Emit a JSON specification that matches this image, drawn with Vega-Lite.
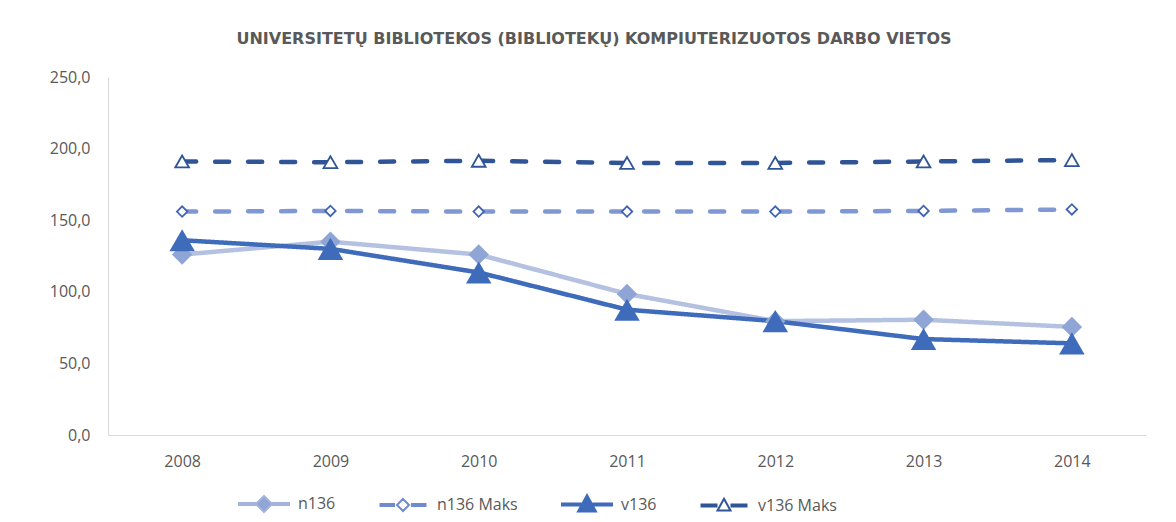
{
  "$schema": "https://vega.github.io/schema/vega-lite/v6.json",
  "autosize": "none",
  "width": 1038,
  "height": 358,
  "padding": {"left": 108, "top": 77, "right": 30, "bottom": 87},
  "background": "white",
  "title": {
    "text": "UNIVERSITETŲ BIBLIOTEKOS (BIBLIOTEKŲ) KOMPIUTERIZUOTOS DARBO VIETOS",
    "font": "DejaVu Sans",
    "fontSize": 16,
    "fontWeight": "bold",
    "color": "#595959",
    "anchor": "middle",
    "dx": -33,
    "offset": 22
  },
  "data": {
    "values": [
      {"year": "2008", "series": "n136", "value": 126},
      {"year": "2009", "series": "n136", "value": 135},
      {"year": "2010", "series": "n136", "value": 126},
      {"year": "2011", "series": "n136", "value": 98.5},
      {"year": "2012", "series": "n136", "value": 79.5},
      {"year": "2013", "series": "n136", "value": 80.5},
      {"year": "2014", "series": "n136", "value": 75.5},
      {"year": "2008", "series": "n136 Maks", "value": 156},
      {"year": "2009", "series": "n136 Maks", "value": 156.5},
      {"year": "2010", "series": "n136 Maks", "value": 156},
      {"year": "2011", "series": "n136 Maks", "value": 156},
      {"year": "2012", "series": "n136 Maks", "value": 156},
      {"year": "2013", "series": "n136 Maks", "value": 156.5},
      {"year": "2014", "series": "n136 Maks", "value": 157.5},
      {"year": "2008", "series": "v136", "value": 136},
      {"year": "2009", "series": "v136", "value": 130},
      {"year": "2010", "series": "v136", "value": 113.5},
      {"year": "2011", "series": "v136", "value": 87.5},
      {"year": "2012", "series": "v136", "value": 79.5},
      {"year": "2013", "series": "v136", "value": 67},
      {"year": "2014", "series": "v136", "value": 64},
      {"year": "2008", "series": "v136 Maks", "value": 191},
      {"year": "2009", "series": "v136 Maks", "value": 190.5},
      {"year": "2010", "series": "v136 Maks", "value": 191.5},
      {"year": "2011", "series": "v136 Maks", "value": 190},
      {"year": "2012", "series": "v136 Maks", "value": 190},
      {"year": "2013", "series": "v136 Maks", "value": 191},
      {"year": "2014", "series": "v136 Maks", "value": 192}
    ]
  },
  "encoding": {
    "x": {
      "field": "year",
      "type": "ordinal",
      "scale": {"type": "point", "padding": 0.5},
      "axis": {
        "title": null,
        "labelAngle": 0,
        "ticks": false,
        "domainColor": "#D9D9D9",
        "domainWidth": 1,
        "labelFont": "Open Sans",
        "labelFontSize": 16,
        "labelColor": "#595959",
        "labelPadding": 18,
        "grid": false
      }
    },
    "y": {
      "field": "value",
      "type": "quantitative",
      "scale": {"domain": [0, 250]},
      "axis": {
        "title": null,
        "values": [0, 50, 100, 150, 200, 250],
        "labelExpr": "replace(format(datum.value, '.1f'), '.', ',')",
        "ticks": false,
        "grid": false,
        "domainColor": "#D9D9D9",
        "labelFont": "Open Sans",
        "labelFontSize": 16,
        "labelColor": "#595959",
        "labelPadding": 18
      }
    }
  },
  "layer": [
    {
      "mark": {"type": "line", "strokeWidth": 4.5, "strokeCap": "round", "strokeJoin": "round"},
      "encoding": {
        "color": {
          "field": "series",
          "type": "nominal",
          "scale": {
            "domain": ["n136", "n136 Maks", "v136", "v136 Maks"],
            "range": ["#B4C1E1", "#7F97D3", "#3F6BBB", "#2F5597"]
          },
          "legend": null
        },
        "strokeDash": {
          "field": "series",
          "type": "nominal",
          "scale": {
            "domain": ["n136", "n136 Maks", "v136", "v136 Maks"],
            "range": [[1, 0], [14, 19], [1, 0], [14, 19]]
          },
          "legend": null
        }
      }
    },
    {
      "transform": [{"filter": "datum.series === 'n136'"}],
      "mark": {"type": "point", "shape": "diamond", "filled": true, "size": 420, "color": "#8FA5D5", "opacity": 1}
    },
    {
      "transform": [{"filter": "datum.series === 'n136 Maks'"}],
      "mark": {"type": "point", "shape": "diamond", "filled": false, "size": 110, "fill": "white", "stroke": "#3F63B3", "strokeWidth": 1.8, "opacity": 1}
    },
    {
      "transform": [{"filter": "datum.series === 'v136'"}],
      "mark": {"type": "point", "shape": "triangle-up", "filled": true, "size": 650, "color": "#3F6BBB", "opacity": 1}
    },
    {
      "transform": [{"filter": "datum.series === 'v136 Maks'"}],
      "mark": {"type": "point", "shape": "triangle-up", "filled": false, "size": 190, "fill": "white", "stroke": "#2F5597", "strokeWidth": 1.8, "opacity": 1}
    },
    {
      "transform": [{"filter": "datum.series === 'none'"}],
      "mark": {"type": "point", "opacity": 1, "strokeWidth": 2},
      "encoding": {
        "shape": {
          "field": "series",
          "type": "nominal",
          "scale": {
            "domain": ["n136_", "n136 Maks_", "v136_", "v136 Maks_"],
            "range": [
              "M-1,-0.04H-0.3V0.04H-1ZM0.3,-0.04H1V0.04H0.3ZM0,-0.32L0.32,0L0,0.32L-0.32,0Z",
              "M-0.9,-0.04H-0.36V0.04H-0.9ZM0.36,-0.04H0.9V0.04H0.36ZM0,-0.24L0.24,0L0,0.24L-0.24,0Z",
              "M-1,-0.04H-0.2V0.04H-1ZM0.2,-0.04H1V0.04H0.2ZM0,-0.38L0.36,0.28L-0.36,0.28Z",
              "M-0.9,-0.04H-0.3V0.04H-0.9ZM0.3,-0.04H0.9V0.04H0.3ZM0,-0.27L0.26,0.2L-0.26,0.2Z"
            ]
          },
          "legend": {
            "title": null,
            "orient": "none",
            "legendX": 130,
            "legendY": 401,
            "direction": "horizontal",
            "labelFont": "Open Sans",
            "labelFontSize": 16,
            "labelColor": "#595959",
            "labelExpr": "replace(datum.label, '_', '')",
            "symbolSize": 2500,
            "symbolStrokeWidth": 2,
            "columnPadding": 40,
            "labelOffset": 8
          }
        },
        "fill": {
          "field": "series",
          "type": "nominal",
          "scale": {
            "domain": ["n136_", "n136 Maks_", "v136_", "v136 Maks_"],
            "range": ["#8FA5D5", "#FFFFFF", "#3F6BBB", "#FFFFFF"]
          },
          "legend": {
            "title": null,
            "orient": "none",
            "legendX": 130,
            "legendY": 401,
            "direction": "horizontal"
          }
        },
        "stroke": {
          "field": "series",
          "type": "nominal",
          "scale": {
            "domain": ["n136_", "n136 Maks_", "v136_", "v136 Maks_"],
            "range": ["#A3B3DB", "#6F8ACF", "#3F6BBB", "#2F5597"]
          },
          "legend": {
            "title": null,
            "orient": "none",
            "legendX": 130,
            "legendY": 401,
            "direction": "horizontal"
          }
        }
      }
    }
  ],
  "config": {
    "view": {"stroke": null}
  }
}
